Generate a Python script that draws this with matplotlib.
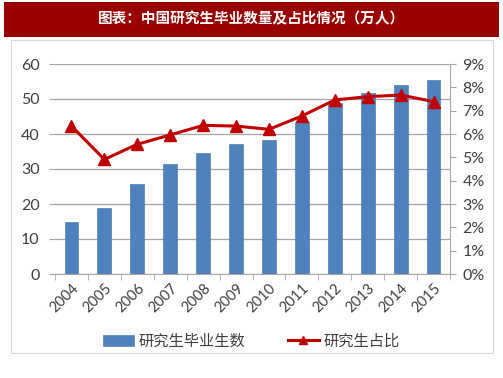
import matplotlib

matplotlib.use("Agg")
import matplotlib.pyplot as plt
from matplotlib.patches import Rectangle
from matplotlib.ticker import FuncFormatter

plt.rcParams["font.family"] = ["Lato", "Noto Sans CJK SC", "DejaVu Sans"]

years = ["2004", "2005", "2006", "2007", "2008", "2009", "2010",
         "2011", "2012", "2013", "2014", "2015"]
graduates = [15.0, 19.0, 25.6, 31.3, 34.5, 37.2, 38.4, 43.4, 48.8, 51.6, 54.0, 55.5]
share = [6.34, 4.91, 5.56, 5.96, 6.37, 6.34, 6.20, 6.77, 7.46, 7.60, 7.67, 7.39]

title = "图表：中国研究生毕业数量及占比情况（万人）"
bar_label = "研究生毕业生数"
line_label = "研究生占比"

bar_color = "#4F81BD"
line_color = "#C00000"
grid_color = "#A6A6A6"
label_color = "#404040"

fig = plt.figure(figsize=(5.03, 3.78), dpi=100)

# title banner
fig.patches.append(Rectangle((4 / 503, 1 - 37 / 378), 495 / 503, 35 / 378,
                             transform=fig.transFigure, facecolor="#990000",
                             edgecolor="none", zorder=0))
fig.text(0.5, 1 - 18 / 378, title, color="white", fontsize=10.5, weight="bold",
         ha="center", va="center", family=["Noto Sans CJK SC", "DejaVu Sans"])
# chart border
fig.patches.append(Rectangle((11 / 503, 1 - 353 / 378), 482 / 503, 313 / 378,
                             transform=fig.transFigure, facecolor="white",
                             edgecolor="#D9D9D9", linewidth=0.8, zorder=0))

ax = fig.add_axes([55 / 503, 1 - 274 / 378, 395 / 503, 210 / 378])
ax.set_zorder(1)
x = list(range(len(years)))
bars = ax.bar(x, graduates, width=0.42, color=bar_color, edgecolor="#3E6FA8",
              linewidth=0.4, zorder=2, label=bar_label)
ax.set_xlim(-0.5, len(years) - 0.5)
ax.set_ylim(0, 60)
ax.set_yticks(range(0, 61, 10))
ax.yaxis.grid(True, color=grid_color, linewidth=0.9)
ax.set_axisbelow(True)
for s in ["top", "left", "right"]:
    ax.spines[s].set_visible(False)
ax.spines["bottom"].set_color(grid_color)
ax.tick_params(axis="y", length=4, color=grid_color, labelsize=11.5,
               labelcolor=label_color, pad=7)
ax.set_xticks(x)
ax.set_xticklabels(years, rotation=45, ha="right", rotation_mode="anchor",
                   fontsize=10.5, color=label_color)
ax.tick_params(axis="x", length=0, pad=5)
ax.set_xticks([i - 0.5 for i in range(len(years) + 1)], minor=True)
ax.tick_params(axis="x", which="minor", length=4, color=grid_color)

ax2 = ax.twinx()
line, = ax2.plot(x, share, color=line_color, linewidth=2.2, marker="^",
                 markersize=8, zorder=3, label=line_label)
ax2.set_ylim(0, 9)
ax2.set_yticks(range(0, 10))
ax2.yaxis.set_major_formatter(FuncFormatter(lambda v, p: f"{int(v)}%"))
for s in ["top", "left", "bottom"]:
    ax2.spines[s].set_visible(False)
ax2.spines["right"].set_color(grid_color)
ax2.tick_params(axis="y", length=4, color=grid_color, labelsize=11.5,
                labelcolor=label_color, pad=5)

leg = fig.legend([bars, line], [bar_label, line_label], loc="center",
                 bbox_to_anchor=(0.5, 1 - 341 / 378), ncol=2, frameon=False,
                 prop={"family": ["Noto Sans CJK SC", "DejaVu Sans"], "size": 11},
                 handlelength=2.0, handletextpad=0.3, columnspacing=2.8)
leg.legend_handles[1].set_markersize(6)
for t in leg.get_texts():
    t.set_color(label_color)

fig.savefig("out.png", dpi=100)
